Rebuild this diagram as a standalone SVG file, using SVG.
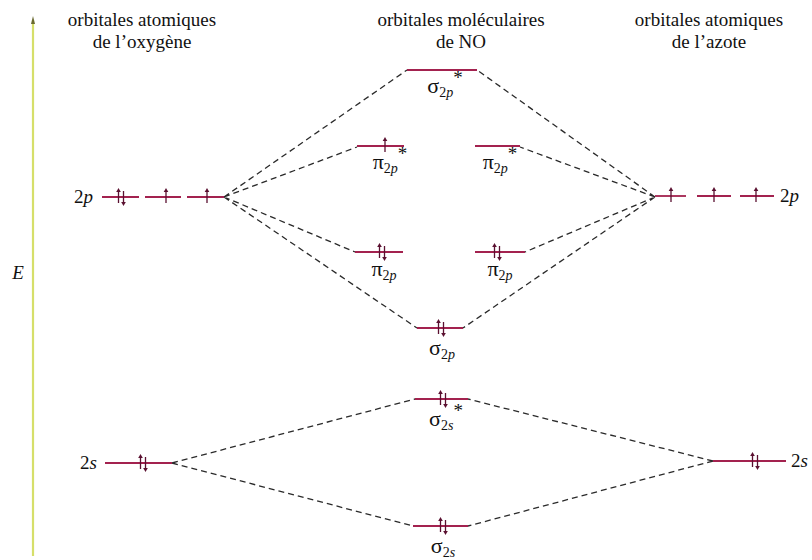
<svg xmlns="http://www.w3.org/2000/svg" xmlns:xlink="http://www.w3.org/1999/xlink" width="812" height="560" viewBox="0 0 812 560">
<style>
text{font-family:"Liberation Serif","Times New Roman",serif;fill:#111}
.t{font-size:19px;text-anchor:middle}
.lab{font-size:22px;text-anchor:middle}
.sub{font-size:14px}
.it{font-style:italic}
.big{font-size:19px}
.lvl{stroke:#a3224f;stroke-width:1.8;fill:none}
.dash{stroke:#2a2a2a;stroke-width:1.3;stroke-dasharray:6,4;fill:none}
.e{stroke:#5a1030;stroke-width:1.3;fill:none}
.eh{fill:#5a1030}
</style>
<defs>
<g id="up"><line class="e" x1="0" y1="6" x2="0" y2="-6"/><path class="eh" d="M-2.3,-5 L0,-9 L2.3,-5 Z"/></g>
<g id="dn"><line class="e" x1="0" y1="-6" x2="0" y2="6"/><path class="eh" d="M-2.3,5 L0,9 L2.3,5 Z"/></g>
<g id="pair"><use xlink:href="#up" x="-2.5"/><use xlink:href="#dn" x="2.5"/></g>
</defs>
<rect width="812" height="560" fill="#ffffff"/>
<g id="axis">
<line x1="33" y1="20" x2="33" y2="556" stroke="#d6df6a" stroke-width="2.2"/>
<path d="M31,24 L33,16 L35,24 Z" fill="#6a6a30"/>
<text x="18" y="279" class="it big" text-anchor="middle">E</text>
</g>
<g id="titles">
<text class="t" x="142" y="26">orbitales atomiques</text>
<text class="t" x="142" y="48">de l’oxygène</text>
<text class="t" x="461" y="26">orbitales moléculaires</text>
<text class="t" x="461" y="48">de NO</text>
<text class="t" x="709" y="26">orbitales atomiques</text>
<text class="t" x="709" y="48">de l’azote</text>
</g>
<g id="connectors">
<path class="dash" d="M224,197 L407,70 M224,197 L357,147 M224,197 L355,252 M224,197 L417,328"/>
<path class="dash" d="M655,197 L477,70 M655,197 L520,147 M655,197 L525,252 M655,197 L463,328"/>
<path class="dash" d="M172,463 L415,399 M172,463 L413,526"/>
<path class="dash" d="M713,461 L468,399 M713,461 L468,526"/>
</g>
<g id="O2p">
<text x="74" y="203" class="big">2<tspan class="it">p</tspan></text>
<line class="lvl" x1="102" y1="197" x2="139" y2="197"/>
<line class="lvl" x1="145" y1="197" x2="181" y2="197"/>
<line class="lvl" x1="187" y1="197" x2="224" y2="197"/>
<use xlink:href="#pair" x="121" y="197"/>
<use xlink:href="#up" x="166" y="197"/>
<use xlink:href="#up" x="207" y="197"/>
</g>
<g id="N2p">
<line class="lvl" x1="655" y1="196" x2="686" y2="196"/>
<line class="lvl" x1="697" y1="196" x2="731" y2="196"/>
<line class="lvl" x1="740" y1="196" x2="774" y2="196"/>
<use xlink:href="#up" x="671" y="196"/>
<use xlink:href="#up" x="714" y="196"/>
<use xlink:href="#up" x="756" y="196"/>
<text x="780" y="202" class="big">2<tspan class="it">p</tspan></text>
</g>
<g id="sig2pstar">
<line class="lvl" x1="407" y1="70" x2="477" y2="70"/>
<text class="lab" x="445" y="93">σ<tspan class="sub" dy="4">2<tspan class="it">p</tspan></tspan><tspan class="big" dy="-13">*</tspan></text>
</g>
<g id="pi2pstarL">
<line class="lvl" x1="357" y1="146" x2="404" y2="146"/>
<use xlink:href="#up" x="385" y="146"/>
<text class="lab" x="390" y="169">π<tspan class="sub" dy="4">2<tspan class="it">p</tspan></tspan><tspan class="big" dy="-13">*</tspan></text>
</g>
<g id="pi2pstarR">
<line class="lvl" x1="475" y1="146" x2="520" y2="146"/>
<text class="lab" x="500" y="169">π<tspan class="sub" dy="4">2<tspan class="it">p</tspan></tspan><tspan class="big" dy="-13">*</tspan></text>
</g>
<g id="pi2pL">
<line class="lvl" x1="355" y1="252" x2="403" y2="252"/>
<use xlink:href="#pair" x="382" y="252"/>
<text class="lab" x="384" y="276">π<tspan class="sub" dy="4">2<tspan class="it">p</tspan></tspan></text>
</g>
<g id="pi2pR">
<line class="lvl" x1="475" y1="252" x2="525" y2="252"/>
<use xlink:href="#pair" x="497" y="252"/>
<text class="lab" x="500" y="276">π<tspan class="sub" dy="4">2<tspan class="it">p</tspan></tspan></text>
</g>
<g id="sig2p">
<line class="lvl" x1="417" y1="328" x2="463" y2="328"/>
<use xlink:href="#pair" x="441" y="328"/>
<text class="lab" x="442" y="355">σ<tspan class="sub" dy="4">2<tspan class="it">p</tspan></tspan></text>
</g>
<g id="O2s">
<text x="80" y="469" class="big">2<tspan class="it">s</tspan></text>
<line class="lvl" x1="105" y1="463" x2="172" y2="463"/>
<use xlink:href="#pair" x="143" y="463"/>
</g>
<g id="sig2sstar">
<line class="lvl" x1="415" y1="399" x2="468" y2="399"/>
<use xlink:href="#pair" x="443" y="399"/>
<text class="lab" x="446" y="426">σ<tspan class="sub" dy="4">2<tspan class="it">s</tspan></tspan><tspan class="big" dy="-13">*</tspan></text>
</g>
<g id="N2s">
<line class="lvl" x1="713" y1="461" x2="786" y2="461"/>
<use xlink:href="#pair" x="755" y="461"/>
<text x="791" y="467" class="big">2<tspan class="it">s</tspan></text>
</g>
<g id="sig2s">
<line class="lvl" x1="413" y1="526" x2="468" y2="526"/>
<use xlink:href="#pair" x="443" y="526"/>
<text class="lab" x="443" y="553">σ<tspan class="sub" dy="4">2<tspan class="it">s</tspan></tspan></text>
</g>
</svg>
